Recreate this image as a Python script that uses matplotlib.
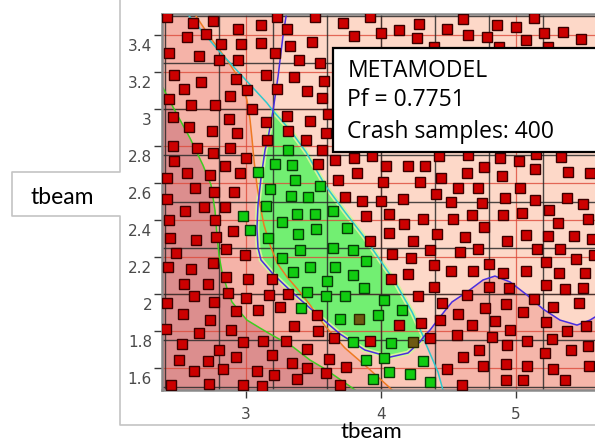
import matplotlib
matplotlib.use("Agg")
import matplotlib.pyplot as plt
from matplotlib.patches import Polygon, Rectangle
from matplotlib.lines import Line2D
from matplotlib.transforms import ScaledTranslation

# ---------------- data ----------------
red_x = [2.417, 2.605, 2.758, 2.939, 3.109, 3.227, 3.301, 2.565, 2.701, 2.813, 2.963, 3.109, 3.326, 2.432,
         2.654, 2.802, 2.939, 3.215, 3.395, 2.469, 2.667, 2.926, 3.148, 3.356, 2.541, 3.010, 3.227, 3.452,
         2.432, 2.590, 2.773, 2.881, 3.044, 2.461, 2.876, 3.146, 3.306, 2.580, 2.748, 2.931, 3.158, 3.309,
         3.474, 3.444, 3.511, 3.716, 3.919, 3.802, 4.000, 4.136, 4.281, 4.264, 4.487, 3.491, 4.395, 3.548,
         3.580, 3.561, 3.610, 3.590, 4.605, 4.647, 4.783, 4.857, 5.000, 5.133, 5.210, 5.350, 5.479, 5.074,
         4.876, 5.239, 2.457, 2.635, 2.758, 2.881, 2.467, 2.844, 2.998, 2.417, 2.565, 2.733, 2.956, 2.622,
         2.763, 2.911, 2.413, 2.691, 2.844, 2.548, 2.427, 2.770, 2.902, 2.437, 2.630, 2.776, 2.481, 2.852,
         2.993, 2.758, 3.561, 3.659, 3.802, 3.931, 3.536, 4.037, 4.198, 4.326, 4.430, 3.820, 3.679, 4.013,
         4.289, 4.444, 3.733, 3.861, 4.000, 4.165, 4.405, 4.519, 3.887, 4.061, 4.313, 4.173, 4.061, 4.413,
         3.919, 4.235, 4.363, 4.079, 4.222, 4.393, 4.647, 4.881, 5.022, 5.148, 5.333, 4.635, 4.763, 4.894,
         5.141, 5.387, 5.548, 4.573, 4.716, 5.030, 4.746, 4.919, 5.141, 5.376, 5.499, 4.536, 4.672, 4.906,
         5.042, 5.244, 5.309, 5.536, 4.763, 4.622, 4.931, 5.074, 5.239, 5.430, 5.561, 4.585, 4.721, 5.158,
         5.326, 4.802, 5.222, 5.444, 5.578, 2.424, 2.590, 2.541, 2.716, 2.852, 3.013, 3.190, 2.615, 2.869,
         2.998, 3.170, 3.313, 2.417, 2.763, 2.531, 2.926, 3.091, 3.252, 2.733, 2.407, 2.654, 2.889, 3.356,
         2.524, 2.976, 3.124, 3.294, 2.802, 3.190, 2.926, 2.501, 2.716, 3.343, 3.454, 2.615, 2.827, 3.079,
         3.207, 3.380, 3.450, 2.444, 2.728, 2.976, 3.116, 4.074, 4.202, 4.516, 4.393, 4.276, 4.450, 3.524,
         4.133, 4.296, 4.437, 3.536, 3.654, 3.919, 4.363, 3.617, 3.741, 3.590, 4.487, 3.696, 4.679, 4.906,
         5.074, 5.321, 5.511, 4.802, 4.950, 5.222, 5.363, 5.494, 4.639, 5.136, 4.770, 4.926, 5.272, 5.469,
         4.573, 5.050, 4.844, 5.222, 5.519, 4.672, 4.956, 5.380, 4.565, 4.820, 5.079, 5.269, 4.936, 5.536,
         4.728, 5.215, 5.405, 4.605, 4.926, 4.758, 5.084, 5.276, 5.543, 4.926, 5.054, 5.363, 4.598]
red_y = [3.496, 3.467, 3.477, 3.431, 3.454, 3.496, 3.431, 3.388, 3.404, 3.351, 3.351, 3.358, 3.341, 3.304,
         3.287, 3.265, 3.265, 3.301, 3.265, 3.182, 3.146, 3.161, 3.182, 3.171, 3.110, 3.103, 3.106, 3.097,
         3.052, 3.023, 3.020, 3.070, 2.998, 2.958, 2.944, 2.930, 2.962, 2.904, 2.883, 2.872, 2.835, 2.883,
         2.935, 2.832, 3.496, 3.467, 3.496, 3.395, 3.409, 3.427, 3.459, 3.382, 3.431, 3.362, 3.337, 3.247,
         3.153, 3.061, 2.973, 2.872, 3.485, 3.400, 3.388, 3.454, 3.445, 3.490, 3.412, 3.416, 3.380, 3.373,
         3.337, 3.337, 2.802, 2.788, 2.761, 2.791, 2.719, 2.694, 2.734, 2.629, 2.652, 2.643, 2.652, 2.575,
         2.553, 2.553, 2.514, 2.472, 2.472, 2.449, 2.398, 2.398, 2.342, 2.304, 2.292, 2.310, 2.220, 2.242,
         2.211, 2.165, 2.778, 2.724, 2.737, 2.748, 2.701, 2.694, 2.694, 2.694, 2.748, 2.652, 2.616, 2.604,
         2.604, 2.625, 2.526, 2.503, 2.503, 2.512, 2.539, 2.499, 2.423, 2.431, 2.404, 2.377, 2.328, 2.323,
         2.286, 2.286, 2.238, 2.215, 2.193, 2.159, 2.751, 2.734, 2.719, 2.755, 2.742, 2.652, 2.688, 2.640,
         2.676, 2.658, 2.652, 2.575, 2.571, 2.575, 2.494, 2.521, 2.508, 2.517, 2.485, 2.404, 2.427, 2.427,
         2.436, 2.454, 2.382, 2.404, 2.364, 2.310, 2.286, 2.319, 2.314, 2.314, 2.297, 2.225, 2.242, 2.242,
         2.242, 2.162, 2.172, 2.189, 2.211, 2.144, 2.137, 2.056, 2.056, 2.090, 2.083, 2.080, 1.989, 2.007,
         1.978, 1.993, 2.002, 1.953, 1.957, 1.892, 1.907, 1.912, 1.930, 1.858, 1.812, 1.791, 1.807, 1.827,
         1.731, 1.741, 1.744, 1.746, 1.696, 1.672, 1.659, 1.642, 1.636, 1.629, 1.701, 1.582, 1.593, 1.582,
         1.561, 1.542, 1.600, 1.507, 1.514, 1.510, 1.503, 2.080, 2.108, 2.123, 2.038, 1.989, 1.953, 1.885,
         1.831, 1.845, 1.858, 1.800, 1.762, 1.744, 1.762, 1.650, 1.605, 1.573, 1.593, 1.507, 2.123, 2.114,
         2.123, 2.115, 2.114, 2.038, 2.032, 2.047, 2.025, 2.032, 1.996, 1.975, 1.924, 1.948, 1.930, 1.953,
         1.890, 1.903, 1.852, 1.849, 1.827, 1.834, 1.804, 1.798, 1.777, 1.768, 1.744, 1.758, 1.723, 1.717,
         1.696, 1.683, 1.696, 1.659, 1.623, 1.611, 1.609, 1.596, 1.611, 1.534, 1.534, 1.534, 1.507]

green_x = [3.313, 3.215, 3.339, 3.087, 3.363, 3.178, 3.333, 3.456, 3.148, 3.376, 2.980, 3.264, 3.030, 3.387,
           3.165, 3.400, 3.264, 3.548, 3.511, 3.647, 3.746, 3.518, 3.647, 3.790, 3.889, 3.346, 3.450, 3.405,
           3.474, 3.659, 3.598, 3.790, 3.590, 3.733, 3.876, 4.022, 4.158, 3.696, 3.980, 3.790, 4.074, 3.887,
           4.022, 4.309, 4.059, 4.217, 3.939, 4.363]
green_y = [2.778, 2.701, 2.697, 2.661, 2.616, 2.568, 2.531, 2.523, 2.476, 2.431, 2.423, 2.388, 2.346, 2.324,
           2.301, 2.238, 2.196, 2.585, 2.431, 2.449, 2.358, 2.351, 2.247, 2.238, 2.181, 2.119, 2.011, 1.924,
           2.144, 2.144, 2.069, 2.101, 1.989, 1.989, 2.032, 1.966, 1.912, 1.867, 1.888, 1.741, 1.735, 1.642,
           1.656, 1.636, 1.578, 1.569, 1.542, 1.524]

mixed_x = [3.837, 4.239]
mixed_y = [1.867, 1.738]

# limit-state curves of the metamodel
dark_x = [2.385, 2.459, 2.585, 2.681, 2.741, 2.770, 2.785, 2.800, 2.822, 2.859, 2.896, 2.956, 3.007, 3.104,
          3.178, 3.348, 3.474, 3.585, 3.756, 3.830]
dark_y = [3.114, 3.011, 2.843, 2.697, 2.589, 2.454, 2.319, 2.211, 2.119, 2.032, 1.957, 1.903, 1.859, 1.816,
          1.784, 1.714, 1.643, 1.595, 1.508, 1.470]
orange_x = [2.600, 2.733, 2.859, 2.956, 3.007, 3.030, 3.044, 3.059, 3.081, 3.104, 3.133, 3.178, 3.230, 3.304,
            3.400, 3.474, 3.585, 3.733, 3.904, 4.067, 4.096]
orange_y = [3.535, 3.389, 3.265, 3.157, 3.049, 2.941, 2.843, 2.724, 2.589, 2.481, 2.373, 2.265, 2.168, 2.092,
            2.011, 1.941, 1.827, 1.708, 1.600, 1.492, 1.470]
blue_x = [3.304, 3.274, 3.237, 3.200, 3.163, 3.141, 3.111, 3.089, 3.081, 3.089, 3.111, 3.200, 3.348, 3.548,
          3.696, 3.881, 4.067, 4.200, 4.289, 4.315, 4.363, 4.437, 4.526, 4.637, 4.756, 4.844, 4.956, 5.081,
          5.200, 5.326, 5.452, 5.548, 5.622]
blue_y = [3.535, 3.395, 3.173, 2.990, 2.843, 2.778, 2.627, 2.481, 2.357, 2.249, 2.184, 2.108, 2.005, 1.876,
          1.784, 1.697, 1.659, 1.681, 1.741, 1.768, 1.805, 1.876, 1.957, 2.011, 2.076, 2.097, 2.065, 1.995,
          1.919, 1.859, 1.832, 1.859, 1.892]
cyan_x = [2.541, 2.793, 2.978, 3.156, 3.200, 3.326, 3.444, 3.585, 3.733, 3.881, 4.007, 4.104, 4.230, 4.315,
          4.326, 4.422, 4.467]
cyan_y = [3.535, 3.319, 3.173, 3.032, 2.990, 2.887, 2.768, 2.589, 2.443, 2.303, 2.168, 2.065, 1.903, 1.768,
          1.741, 1.578, 1.459]
B_TOP, B_BOT = 3, 19   # blue indices where blue meets cyan
C_TOP, C_BOT = 4, 13   # cyan indices of the same crossings

x_ticks = [3, 4, 5]
y_ticks = [1.6, 1.8, 2.0, 2.2, 2.4, 2.6, 2.8, 3.0, 3.2, 3.4]
y_tick_labels = ["1.6", "1.8", "2", "2.2", "2.4", "2.6", "2.8", "3", "3.2", "3.4"]
grid_black_x = [2.4, 2.8, 3.2, 3.6, 4.0, 4.4, 4.8, 5.2, 5.6]
grid_black_y = [1.5, 1.75, 2.0, 2.25, 2.5, 2.75, 3.0, 3.25, 3.5]
box_lines = ["METAMODEL", "Pf = 0.7751", "Crash samples: 400"]
axis_label = "tbeam"

# ---------------- figure ----------------
W, H = 595, 443
fig = plt.figure(figsize=(W / 100, H / 100), dpi=100)
fig.patch.set_facecolor("white")
ax = fig.add_axes([162 / W, 53 / H, 438 / W, 376 / H])
xmin, xmax, ymin, ymax = 2.3778, 5.6222, 1.4811, 3.5135
ax.set_xlim(xmin, xmax)
ax.set_ylim(ymin, ymax)

C_PEACH = "#fdd8c8"
C_LIGHT = "#fbc8b8"
C_MED = "#f5b3a8"
C_DARK = "#dc8e8e"
C_WAVE = "#f5b6aa"
C_SAFE = "#72ef72"
ax.set_facecolor(C_PEACH)

P = lambda xs, ys: list(zip(xs, ys))
orange = P(orange_x, orange_y)
dark = P(dark_x, dark_y)
blue = P(blue_x, blue_y)
cyan = P(cyan_x, cyan_y)
L = xmin - 0.3

ax.add_patch(Polygon([(L, orange_y[0])] + orange + [(L, orange_y[-1])], closed=True,
                     facecolor=C_MED, edgecolor="none", zorder=0.5))
ax.add_patch(Polygon([(L, dark_y[0])] + dark + [(L, ymin - 0.3)], closed=True,
                     facecolor=C_DARK, edgecolor="none", zorder=0.6))
light_poly = orange + cyan[:C_TOP - 1:-1] + blue[B_TOP - 1::-1]
ax.add_patch(Polygon(light_poly, closed=True, facecolor=C_LIGHT, edgecolor="none", zorder=0.6))
wave_poly = blue[B_BOT:] + [(xmax + 0.3, blue_y[-1]), (xmax + 0.3, ymin - 0.3),
                            (cyan_x[-1], ymin - 0.3)] + cyan[:C_BOT:-1]
ax.add_patch(Polygon(wave_poly, closed=True, facecolor=C_WAVE, edgecolor="none", zorder=0.6))
safe_poly = blue[B_TOP:B_BOT + 1] + cyan[C_BOT - 1:C_TOP:-1]
ax.add_patch(Polygon(safe_poly, closed=True, facecolor=C_SAFE, edgecolor="#d6f39a",
                     linewidth=3.5, joinstyle="round", zorder=0.8))

# grid
for v in grid_black_x:
    ax.axvline(v, color="#2a2a2a", lw=1.0, alpha=0.85, zorder=1.5)
for v in grid_black_y:
    ax.axhline(v, color="#2a2a2a", lw=1.0, alpha=0.85, zorder=1.5)
for v in x_ticks:
    ax.axvline(v, color="#dd4a3a", lw=0.9, alpha=0.8, zorder=1.4)
for v in y_ticks:
    ax.axhline(v, color="#dd4a3a", lw=0.9, alpha=0.8, zorder=1.4)

# curves
ax.plot(dark_x, dark_y, color="#3fcc1f", lw=1.1, zorder=2)
ax.plot(orange_x, orange_y, color="#ee7a22", lw=1.1, zorder=2)
ax.plot(cyan_x, cyan_y, color="#2fc8cc", lw=1.1, zorder=2)
ax.plot(blue_x, blue_y, color="#4a2ee0", lw=1.1, zorder=2.1)

# samples
MS = 7.0
ax.plot(red_x, red_y, "s", ms=MS, mfc="#cc0000", mec="#3a0000", mew=1.0, ls="none", zorder=3)
ax.plot(mixed_x, mixed_y, "s", ms=MS, mfc="#6e5a12", mec="#2a2a00", mew=1.0, ls="none", zorder=3)
ax.plot(green_x, green_y, "s", ms=MS, mfc="#11cc11", mec="#0a3a0a", mew=1.0, ls="none", zorder=3)

# info box
ax.add_patch(Rectangle((0.390, 0.633), 0.7, 0.2766, transform=ax.transAxes, facecolor="white",
                       edgecolor="black", lw=1.6, zorder=6))
for txt, yb in zip(box_lines, [0.833, 0.754, 0.670]):
    ax.text(0.423, yb, txt, transform=ax.transAxes, ha="left", va="baseline",
            fontsize=16.5, family="Open Sans", color="black", zorder=7)

# axes styling
for s in ["top", "left", "bottom"]:
    ax.spines[s].set_color("#8a8a8a")
    ax.spines[s].set_linewidth(1.8)
ax.spines["right"].set_visible(False)
ax.set_xticks(x_ticks)
ax.set_xticklabels([str(t) for t in x_ticks])
ax.set_yticks(y_ticks)
ax.set_yticklabels(y_tick_labels)
ax.tick_params(axis="both", direction="out", length=6, width=1.0, color="#3a3a3a",
               labelcolor="#4a4a4a", labelsize=11)
ax.tick_params(axis="x", pad=6.5)
ax.tick_params(axis="y", pad=1.2)
off = ScaledTranslation(0, -0.10, fig.dpi_scale_trans)
for lbl in ax.get_yticklabels():
    lbl.set_transform(lbl.get_transform() + off)

# outer frame with label notch
fx = [120, 120, 12, 12, 120, 120, 600]
fy = [0, 172, 172, 216, 216, 425, 425]
fig.add_artist(Line2D([v / W for v in fx], [1 - v / H for v in fy], transform=fig.transFigure,
                      color="#c4c4c4", lw=1.2))

fig.text(62 / W, 1 - 204 / H, axis_label, ha="center", va="baseline", fontsize=16.5,
         family="Lato", color="black")
fig.text(371 / W, 1 - 438.5 / H, axis_label, ha="center", va="baseline", fontsize=16,
         family="Lato", color="black")

fig.savefig("out.png", dpi=100)
